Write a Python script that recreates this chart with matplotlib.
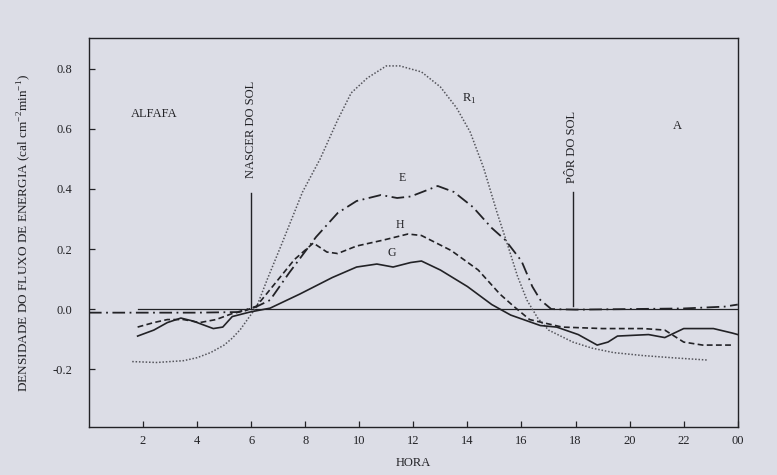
import matplotlib.pyplot as plt

plt.rcParams["font.family"] = ["Liberation Serif", "DejaVu Serif"]
plt.rcParams["mathtext.fontset"] = "custom"
plt.rcParams["mathtext.rm"] = "Liberation Serif"

# R1 - radiacao liquida (pontilhado)
r1_h = [1.6, 2.5, 3.5, 4.0, 4.5, 5.0, 5.3, 5.6, 5.9, 6.2, 6.6, 7.1, 7.5, 7.9, 8.55, 9.2,
        9.7, 10.3, 11.0, 11.5, 12.3, 13.0, 13.6, 14.1, 14.6, 15.1, 15.5, 15.85, 16.2,
        16.6, 17.0, 17.9, 18.6, 19.4, 20.5, 21.7, 22.9]
r1_v = [-0.175, -0.178, -0.172, -0.162, -0.145, -0.12, -0.097, -0.068, -0.03, 0.007, 0.1,
        0.21, 0.3, 0.39, 0.5, 0.63, 0.72, 0.77, 0.81, 0.81, 0.79, 0.74, 0.67, 0.59, 0.47,
        0.32, 0.21, 0.11, 0.03, -0.03, -0.07, -0.11, -0.13, -0.145, -0.155, -0.163, -0.17]

# E - calor latente (traco-ponto)
e_h = [0.0, 2.0, 4.0, 5.5, 6.2, 6.7, 7.4, 8.4, 9.2, 9.9, 10.8, 11.4, 11.9, 12.9, 13.5,
       14.2, 14.9, 15.4, 16.0, 16.4, 16.7, 17.1, 18.0, 20.0, 22.0, 23.5, 24.0]
e_v = [-0.012, -0.012, -0.012, -0.01, 0.008, 0.03, 0.12, 0.24, 0.32, 0.36, 0.38, 0.37,
       0.375, 0.41, 0.39, 0.34, 0.27, 0.23, 0.16, 0.075, 0.03, 0.0, -0.002, 0.0, 0.002,
       0.008, 0.015]

# H - calor sensivel (tracejado)
h_h = [1.8, 2.4, 2.9, 3.5, 4.1, 4.7, 5.3, 5.8, 6.2, 6.7, 7.6, 8.3, 8.8, 9.2, 9.9, 10.9,
       11.8, 12.3, 13.4, 14.4, 15.2, 15.7, 16.3, 17.5, 19.0, 20.5, 21.3, 22.0, 22.7, 23.8]
h_v = [-0.06, -0.045, -0.035, -0.035, -0.045, -0.035, -0.015, -0.005, 0.01, 0.065, 0.165,
       0.22, 0.19, 0.185, 0.21, 0.23, 0.25, 0.245, 0.195, 0.13, 0.05, 0.01, -0.035, -0.06,
       -0.065, -0.065, -0.07, -0.11, -0.12, -0.12]

# G - fluxo de calor no solo (continuo)
g_h = [1.8, 2.4, 2.9, 3.4, 3.85, 4.6, 4.95, 5.3, 5.95, 6.7, 7.8, 9.0, 9.9, 10.65, 11.25,
       11.9, 12.3, 13.0, 14.0, 14.9, 15.6, 16.7, 17.3, 18.1, 18.8, 19.2, 19.55, 20.7,
       21.3, 22.0, 23.1, 23.8, 24.0]
g_v = [-0.09, -0.07, -0.045, -0.03, -0.04, -0.065, -0.06, -0.025, -0.01, 0.003, 0.05,
       0.105, 0.14, 0.15, 0.14, 0.155, 0.16, 0.13, 0.075, 0.015, -0.02, -0.055, -0.06,
       -0.085, -0.12, -0.11, -0.09, -0.085, -0.095, -0.065, -0.065, -0.08, -0.085]

x_ticks = [2, 4, 6, 8, 10, 12, 14, 16, 18, 20, 22, 24]
x_labels = ["2", "4", "6", "8", "10", "12", "14", "16", "18", "20", "22", "00"]
y_ticks = [-0.2, 0.0, 0.2, 0.4, 0.6, 0.8]
y_labels = ["-0.2", "0.0", "0.2", "0.4", "0.6", "0.8"]

bg = "#dcdde6"
ink = "#222226"

fig = plt.figure(figsize=(7.77, 4.75), dpi=100, facecolor=bg)
ax = fig.add_axes([0.1145, 0.101, 0.835, 0.819], facecolor=bg)

ax.plot([1.8, 24], [0, 0], color=ink, lw=0.9)
ax.plot(r1_h, r1_v, color="#55555c", lw=1.1, linestyle=(0, (1, 1.2)))
ax.plot(e_h, e_v, color=ink, lw=1.3, linestyle=(0, (7, 2.5, 1, 2.5)))
ax.plot(h_h, h_v, color=ink, lw=1.2, linestyle=(0, (3.5, 2)))
ax.plot(g_h, g_v, color=ink, lw=1.2)

# nascer e por do sol
ax.plot([6.0, 6.0], [0.0, 0.387], color=ink, lw=1.0)
ax.plot([17.9, 17.9], [0.01, 0.39], color=ink, lw=1.0)
ax.text(6.0, 0.6, "NASCER DO SOL", rotation=90, ha="center", va="center", fontsize=9, color=ink)
ax.text(17.85, 0.54, "PÔR DO SOL", rotation=90, ha="center", va="center", fontsize=9, color=ink)

ax.text(1.55, 0.65, "ALFAFA", fontsize=9, color=ink, va="center")
ax.text(21.6, 0.61, "A", fontsize=9, color=ink, va="center")
ax.text(13.8, 0.70, "R$_1$", fontsize=9, color=ink, va="center")
ax.text(11.6, 0.415, "E", fontsize=8.5, color=ink, ha="center", va="bottom")
ax.text(11.5, 0.26, "H", fontsize=8.5, color=ink, ha="center", va="bottom")
ax.text(11.2, 0.168, "G", fontsize=8.5, color=ink, ha="center", va="bottom")

ax.set_xlim(0, 24)
ax.set_ylim(-0.393, 0.903)
ax.set_xticks(x_ticks)
ax.set_xticklabels(x_labels)
ax.set_yticks(y_ticks)
ax.set_yticklabels(y_labels)
ax.tick_params(direction="in", length=4, width=0.9, colors=ink, labelsize=9)
ax.tick_params(axis="y", pad=12)
ax.tick_params(axis="x", pad=6)
for s in ax.spines.values():
    s.set_color(ink)
    s.set_linewidth(1.0)

ax.set_xlabel("HORA", fontsize=9, color=ink, labelpad=7)
ax.set_ylabel("DENSIDADE DO FLUXO DE ENERGIA (cal cm$^{-2}$min$^{-1}$)", fontsize=9.5,
              color=ink, labelpad=14)

plt.savefig("out.png", dpi=100, facecolor=bg)
